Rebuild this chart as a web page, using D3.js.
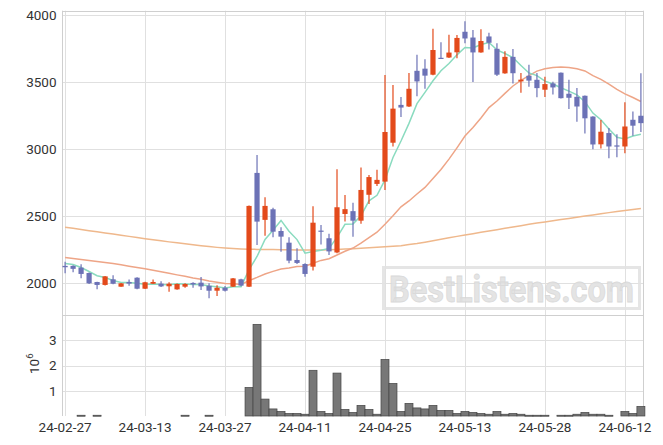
<!DOCTYPE html>
<html><head><meta charset="utf-8">
<script src="https://cdn.jsdelivr.net/npm/d3@7"></script>
<style>
body{margin:0;background:#fff}
svg{display:block}
text{font-family:Roboto,"DejaVu Sans",sans-serif}
</style>
</head><body>
<svg id="c" width="663" height="445"></svg>
<script>
// ---------- DATA ----------
const dates = ["24-02-27","24-02-28","24-02-29","24-03-04","24-03-05","24-03-06","24-03-07","24-03-08","24-03-11","24-03-12",
"24-03-13","24-03-14","24-03-15","24-03-18","24-03-19","24-03-20","24-03-21","24-03-22","24-03-25","24-03-26",
"24-03-27","24-03-28","24-03-29","24-04-01","24-04-02","24-04-03","24-04-04","24-04-05","24-04-08","24-04-09",
"24-04-11","24-04-12","24-04-15","24-04-16","24-04-17","24-04-18","24-04-19","24-04-22","24-04-23","24-04-24",
"24-04-25","24-04-26","24-04-29","24-04-30","24-05-02","24-05-03","24-05-07","24-05-08","24-05-09","24-05-10",
"24-05-13","24-05-14","24-05-16","24-05-17","24-05-20","24-05-21","24-05-22","24-05-23","24-05-24","24-05-27",
"24-05-28","24-05-29","24-05-30","24-05-31","24-06-03","24-06-04","24-06-05","24-06-07","24-06-10","24-06-11",
"24-06-12","24-06-13","24-06-14"];

const openP = [2130,2130,2117,2077,2010,1988,2030,1975,2010,2042,
1960,1997,1998,1978,1955,1975,2003,2005,1982,1945,
1967,1975,2030,1975,2823,2473,2552,2390,2303,2174,
2144,2124,2393,2336,2230,2517,2538,2467,2660,2741,
2758,3048,3330,3318,3584,3600,3555,3681,3683,3722,
3875,3832,3721,3840,3748,3565,3688,3505,3547,3517,
3443,3490,3570,3413,3390,3398,3243,3036,3120,3028,
3020,3219,3249];
const highP = [2160,2135,2142,2080,2012,2055,2060,2002,2028,2045,
2012,2028,2015,2008,1998,2000,2008,2047,2000,1985,
1980,2040,2035,2580,2957,2642,2564,2418,2343,2262,
2150,2575,2434,2370,2851,2659,2601,2863,2808,2846,
3553,3478,3388,3567,3703,3671,3897,3797,3852,3850,
3953,3889,3893,3867,3790,3730,3746,3568,3630,3567,
3540,3503,3572,3517,3455,3400,3245,3217,3157,3112,
3350,3281,3565];
const lowP = [2075,2082,2037,1995,1955,1983,1993,1975,1982,1955,
1958,1995,1973,1938,1953,1968,1968,1950,1888,1905,
1940,1972,1978,1972,2286,2355,2343,2236,2150,2144,
2050,2095,2290,2211,2225,2460,2348,2445,2592,2725,
2696,3020,3239,3315,3395,3450,3550,3675,3680,3677,
3790,3500,3718,3742,3546,3562,3490,3420,3465,3387,
3388,3407,3378,3300,3205,3117,3000,3005,2933,2940,
2970,3100,3127];
const closeP = [2120,2108,2070,2000,1988,2052,1997,2000,1998,1960,
2008,2010,1977,1997,1995,1995,1992,1977,1945,1967,
1945,2037,1983,2577,2460,2577,2385,2348,2169,2152,
2070,2452,2388,2238,2567,2553,2467,2696,2792,2771,
3128,3302,3310,3450,3505,3548,3739,3677,3720,3829,
3825,3721,3806,3793,3555,3688,3566,3518,3511,3455,
3485,3460,3380,3383,3318,3230,3035,3130,3020,3025,
3169,3175,3194];
// volume in millions of shares
const volumeM = [0,0,0.03,0,0.03,0,0,0,0,0,
0,0,0,0,0,0.03,0,0,0.03,0,
0,0,0,1.13,3.63,0.67,0.28,0.18,0.10,0.10,
0.07,1.81,0.18,0.10,1.70,0.26,0.14,0.42,0.26,0.07,
2.24,1.29,0.18,0.50,0.32,0.28,0.42,0.22,0.22,0.10,
0.18,0.14,0.10,0.07,0.18,0.07,0.10,0.07,0.03,0.03,
0.03,0,0.03,0.03,0.07,0.14,0.07,0.07,0.03,0,
0.18,0.10,0.38];
const ma5 = [2148,2140,2118,2088,2057,2044,2021,2007,2007,2001,
1993,1995,1991,1990,1997,1995,1991,1991,1981,1975,
1965,1974,1975,2102,2200,2327,2396,2469,2388,2326,
2225,2238,2246,2260,2343,2440,2443,2504,2615,2656,
2771,2938,3061,3192,3339,3423,3510,3584,3638,3703,
3758,3754,3780,3795,3740,3713,3682,3624,3568,3548,
3507,3486,3458,3433,3405,3354,3269,3219,3151,3088,
3076,3098,3111];
const ma20 = [2192,2185,2178,2170,2162,2155,2147,2138,2128,2118,
2108,2097,2086,2075,2063,2052,2040,2030,2018,2008,
1999,1996,1991,2020,2044,2070,2089,2107,2115,2125,
2128,2150,2171,2183,2211,2239,2263,2299,2341,2381,
2441,2504,2570,2614,2666,2715,2782,2849,2926,3010,
3098,3161,3232,3310,3359,3416,3471,3512,3548,3582,
3600,3608,3612,3608,3599,3583,3548,3520,3485,3445,
3412,3385,3355];
const maLong = [2418,2410,2401,2392,2384,2375,2367,2358,2350,2341,
2333,2325,2317,2309,2302,2295,2288,2281,2274,2268,
2263,2259,2256,2254,2253,2252,2252,2251,2250,2249,
2249,2249,2249,2250,2252,2255,2258,2261,2265,2269,
2273,2277,2281,2289,2297,2307,2318,2328,2339,2350,
2360,2370,2380,2390,2400,2410,2420,2430,2440,2449,
2458,2466,2475,2484,2493,2501,2510,2518,2527,2535,
2543,2550,2558];
const priceTicks = [2000,2500,3000,3500,4000];
const volumeTicks = [1,2,3];
const dateTickIndex = [0,10,20,30,40,50,60,70];
const watermark = "BestListens.com";

// ---------- LAYOUT ----------
const svg = d3.select("#c");
const L = 62.3, R = 643.3, PT = 10.7, PB = 315, VT = 315, VB = 416;
const x = d3.scaleLinear().domain([-0.35, 72.3]).range([L, R]);
const y = d3.scaleLinear().domain([1764, 4032]).range([PB, PT]);
const yv = d3.scaleLinear().domain([0, 4]).range([VB, VT]);
const gridC = "#e0e0e0", frameC = "#cfcfcf";
const upC = "#e34a1b", downC = "#6c72b6";
const idx = d3.range(dates.length);

// grid - price
const g = svg.append("g");
g.selectAll(".hg").data(priceTicks).join("line")
  .attr("x1", L).attr("x2", R).attr("y1", d => Math.round(y(d))+0.5).attr("y2", d => Math.round(y(d))+0.5)
  .attr("stroke", gridC);
g.selectAll(".hv").data(volumeTicks).join("line")
  .attr("x1", L).attr("x2", R).attr("y1", d => Math.round(yv(d))+0.5).attr("y2", d => Math.round(yv(d))+0.5)
  .attr("stroke", gridC);
g.selectAll(".vg").data(dateTickIndex).join("line")
  .attr("x1", d => Math.round(x(d))+0.5).attr("x2", d => Math.round(x(d))+0.5)
  .attr("y1", PT).attr("y2", VB)
  .attr("stroke", gridC);
// frame
g.append("line").attr("x1", L).attr("x2", R).attr("y1", Math.round(PT)+0.5).attr("y2", Math.round(PT)+0.5).attr("stroke", frameC);
g.append("line").attr("x1", L).attr("x2", R).attr("y1", PB+0.5).attr("y2", PB+0.5).attr("stroke", frameC);
g.append("line").attr("x1", Math.round(L)+0.5).attr("x2", Math.round(L)+0.5).attr("y1", PT).attr("y2", VB).attr("stroke", frameC);
g.append("line").attr("x1", Math.round(R)+0.5).attr("x2", Math.round(R)+0.5).attr("y1", PT).attr("y2", VB).attr("stroke", frameC);

// watermark
const wm = svg.append("g").attr("opacity", 0.9);
wm.append("rect").attr("x", 383.5).attr("y", 267.5).attr("width", 256).attr("height", 41)
  .attr("fill", "none").attr("stroke", "#e3e3e3").attr("stroke-width", 3);
wm.append("text").attr("x", 389).attr("y", 301.5).text(watermark)
  .attr("font-size", 36).attr("font-weight", "bold")
  .attr("textLength", 245).attr("lengthAdjust", "spacingAndGlyphs")
  .attr("fill", "#e2e2e2").attr("stroke", "#d6d6d6").attr("stroke-width", 0.8);

// moving averages
const line = arr => d3.line().x((d, i) => x(i)).y(d => y(d))(arr);
svg.append("path").attr("d", line(maLong)).attr("fill", "none").attr("stroke", "#efb88c").attr("stroke-width", 1.5);
svg.append("path").attr("d", line(ma20)).attr("fill", "none").attr("stroke", "#eea587").attr("stroke-width", 1.5);
svg.append("path").attr("d", line(ma5)).attr("fill", "none").attr("stroke", "#8adbbf").attr("stroke-width", 1.5);

// candles
const cg = svg.append("g");
const bw = 5.2;
idx.forEach(i => {
  const up = closeP[i] >= openP[i];
  const col = up ? upC : downC;
  const cx = x(i);
  cg.append("line").attr("x1", cx).attr("x2", cx).attr("y1", y(highP[i])).attr("y2", y(lowP[i]))
    .attr("stroke", col).attr("stroke-width", 1.2);
  const top = y(Math.max(openP[i], closeP[i])), bot = y(Math.min(openP[i], closeP[i]));
  cg.append("rect").attr("x", cx - bw/2).attr("width", bw)
    .attr("y", top).attr("height", Math.max(1.2, bot - top)).attr("fill", col);
});

// volume bars
const vg = svg.append("g");
idx.filter(i => volumeM[i] > 0).forEach(i => {
  const top = yv(volumeM[i]);
  vg.append("rect").attr("x", x(i) - 4).attr("width", 8)
    .attr("y", top).attr("height", Math.max(1, VB - top))
    .attr("fill", "#777").attr("stroke", "#444").attr("stroke-width", 0.7);
});

// axes labels
const ax = svg.append("g").attr("font-size", 13.5).attr("fill", "#333");
ax.selectAll(".pl").data(priceTicks).join("text")
  .attr("x", 56.5).attr("y", d => y(d)).attr("dy", "0.36em").attr("text-anchor", "end")
  .text(d => d);
ax.selectAll(".vl").data(volumeTicks).join("text")
  .attr("x", 56.5).attr("y", d => yv(d)).attr("dy", "0.36em").attr("text-anchor", "end")
  .text(d => d);
ax.selectAll(".dl").data(dateTickIndex).join("text")
  .attr("x", d => x(d)).attr("y", 431.5).attr("text-anchor", "middle")
  .text(d => dates[d]);
const ul = ax.append("text").attr("transform", "translate(38.5,374) rotate(-90)").attr("text-anchor", "start");
ul.append("tspan").text("10");
ul.append("tspan").attr("font-size", 9.5).attr("dy", -6).text("6");
</script>
</body></html>
